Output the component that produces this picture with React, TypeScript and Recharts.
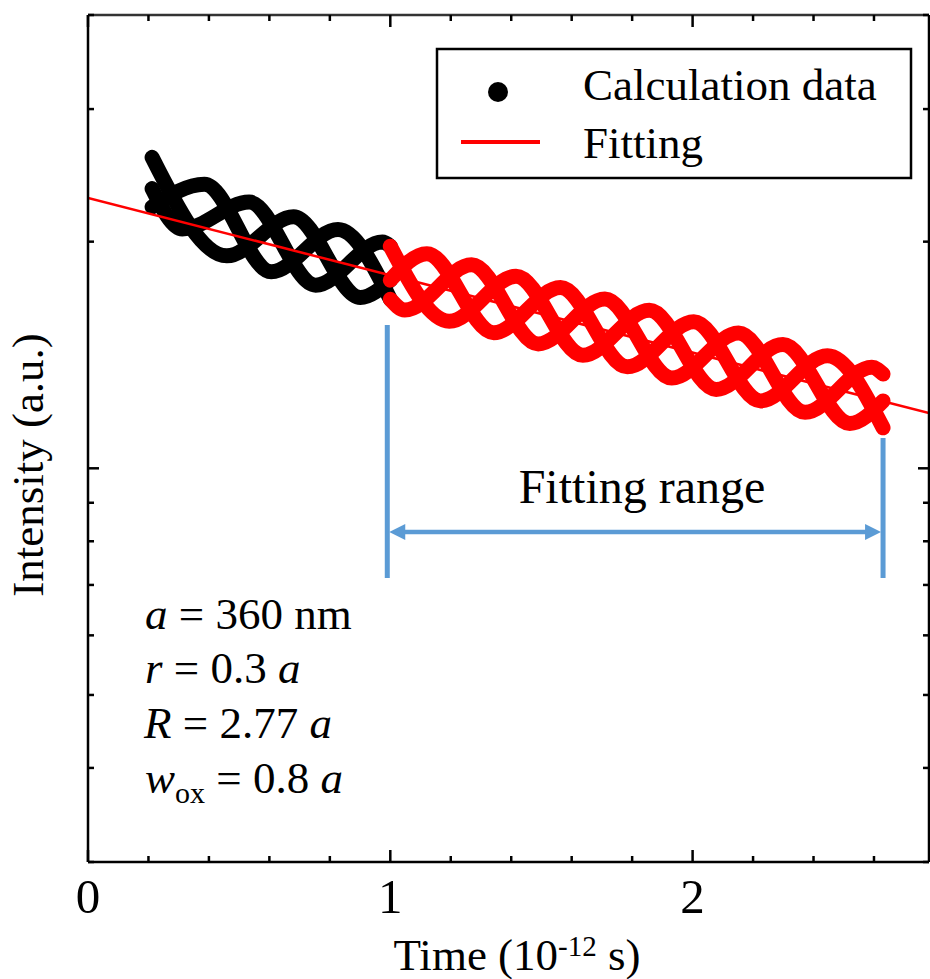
import React from 'react';
import { LineChart, Line, XAxis, YAxis, ReferenceLine } from 'recharts';

const FONT = "'Liberation Serif', 'Times New Roman', serif";
const BLUE = '#5B9BD5';
const RED = '#FF0000';

// Axis ticks
const timeTicks = [0, 0.2, 0.4, 0.6, 0.8, 1, 1.2, 1.4, 1.6, 1.8, 2, 2.2, 2.4, 2.6];
const timeLabels = [0, 1, 2];
const intensityTicks = [0.3, 0.4, 0.5, 0.6, 0.7, 0.8, 0.9, 1, 2, 3, 4];
const intensityMajor = [1];
const timeDomain = [0, 2.782];
const intensityDomain = [0.3, 4];

// Calculation data, three interleaved strands (time in ps, intensity a.u.)
const strandABlack = [
  { t: 0.212, v: 2.588 }, { t: 0.459, v: 1.915 }, { t: 0.68, v: 2.159 },
  { t: 0.901, v: 1.686 }, { t: 1.0, v: 1.778 },
];
const strandARed = [
  { t: 1.0, v: 1.778 }, { t: 1.121, v: 1.928 }, { t: 1.342, v: 1.514 },
  { t: 1.563, v: 1.738 }, { t: 1.784, v: 1.364 }, { t: 2.004, v: 1.566 },
  { t: 2.225, v: 1.229 }, { t: 2.446, v: 1.411 }, { t: 2.63, v: 1.132 },
];
const strandBBlack = [
  { t: 0.212, v: 2.224 }, { t: 0.385, v: 2.384 }, { t: 0.606, v: 1.824 },
  { t: 0.827, v: 2.076 }, { t: 1.0, v: 1.677 },
];
const strandBRed = [
  { t: 1.0, v: 1.677 }, { t: 1.048, v: 1.623 }, { t: 1.269, v: 1.863 },
  { t: 1.489, v: 1.463 }, { t: 1.71, v: 1.678 }, { t: 1.931, v: 1.318 },
  { t: 2.152, v: 1.512 }, { t: 2.372, v: 1.187 }, { t: 2.593, v: 1.362 },
  { t: 2.63, v: 1.334 },
];
const strandCBlack = [
  { t: 0.212, v: 2.352 }, { t: 0.312, v: 2.079 }, { t: 0.533, v: 2.257 },
  { t: 0.753, v: 1.751 }, { t: 0.974, v: 1.998 }, { t: 1.0, v: 1.972 },
];
const strandCRed = [
  { t: 1.0, v: 1.972 }, { t: 1.195, v: 1.568 }, { t: 1.416, v: 1.799 },
  { t: 1.637, v: 1.413 }, { t: 1.857, v: 1.621 }, { t: 2.078, v: 1.273 },
  { t: 2.299, v: 1.46 }, { t: 2.52, v: 1.147 }, { t: 2.63, v: 1.229 },
];

// Exponential fit (straight on log axis)
const fitData = [{ t: 0, v: 2.286 }, { t: 2.782, v: 1.184 }];

// Fitting-range annotation
const rangeStart = 0.99;
const rangeEnd = 2.63;
const rangeLeftTop = 1.55;
const rangeRightTop = 1.097;
const rangeBottom = 0.715;
const arrowLevel = 0.823;

const isMajorTime = (v: number) => timeLabels.some((m) => Math.abs(m - v) < 1e-6);
const isMajorInt = (v: number) => intensityMajor.some((m) => Math.abs(m - v) < 1e-6);

const BottomTick = (p: any) => {
  const major = isMajorTime(p.payload.value);
  return (
    <g>
      <line x1={p.x} x2={p.x} y1={p.y} y2={p.y - (major ? 12 : 6)} stroke="#000" strokeWidth={2.5} />
      {major && (
        <text x={p.x} y={p.y + 51} textAnchor="middle" fontSize={49} fontFamily={FONT} fill="#000">
          {p.payload.value}
        </text>
      )}
    </g>
  );
};
const TopTick = (p: any) => {
  const major = isMajorTime(p.payload.value);
  return <line x1={p.x} x2={p.x} y1={p.y} y2={p.y + (major ? 12 : 6)} stroke="#000" strokeWidth={2.5} />;
};
const LeftTick = (p: any) => {
  const major = isMajorInt(p.payload.value);
  return <line x1={p.x} x2={p.x + (major ? 11 : 6)} y1={p.y} y2={p.y} stroke="#000" strokeWidth={2.5} />;
};
const RightTick = (p: any) => {
  const major = isMajorInt(p.payload.value);
  return <line x1={p.x} x2={p.x - (major ? 11 : 6)} y1={p.y} y2={p.y} stroke="#000" strokeWidth={2.5} />;
};

const ArrowShape = (p: any) => {
  const { x1, y1, x2, y2 } = p;
  return (
    <g>
      <line x1={x1 + 10} y1={y1} x2={x2 - 10} y2={y2} stroke={BLUE} strokeWidth={4.5} />
      <polygon points={`${x1 + 2},${y1} ${x1 + 18},${y1 - 8} ${x1 + 18},${y1 + 8}`} fill={BLUE} />
      <polygon points={`${x2 - 2},${y2} ${x2 - 18},${y2 - 8} ${x2 - 18},${y2 + 8}`} fill={BLUE} />
    </g>
  );
};

const strandStyle = {
  type: 'monotone' as const,
  dataKey: 'v',
  dot: false,
  strokeWidth: 15,
  strokeLinecap: 'round' as const,
  strokeLinejoin: 'round' as const,
  isAnimationActive: false,
  activeDot: false,
};

const axisCommon = {
  type: 'number' as const,
  allowDataOverflow: true,
  interval: 0 as const,
  tickSize: 0,
  tickMargin: 0,
  tickLine: false,
  axisLine: { stroke: '#000', strokeWidth: 2.5 },
};

export default function App() {
  return (
    <div style={{ position: 'absolute', left: 0, top: 0, width: 930, height: 979, background: '#fff' }}>
      <LineChart width={930} height={979} margin={{ top: 14, right: 0, bottom: 116, left: 87 }}>
        <XAxis
          {...axisCommon}
          dataKey="t"
          domain={timeDomain}
          ticks={timeTicks}
          height={1}
          tick={(p: any) => <BottomTick {...p} />}
        />
        <XAxis
          {...axisCommon}
          xAxisId="top"
          orientation="top"
          dataKey="t"
          domain={timeDomain}
          ticks={timeTicks}
          height={1}
          axisLine={{ stroke: '#333', strokeWidth: 2.5 }}
          tick={(p: any) => <TopTick {...p} />}
        />
        <YAxis
          {...axisCommon}
          scale="log"
          domain={intensityDomain}
          ticks={intensityTicks}
          width={1}
          tick={(p: any) => <LeftTick {...p} />}
        />
        <YAxis
          {...axisCommon}
          yAxisId="right"
          orientation="right"
          scale="log"
          domain={intensityDomain}
          ticks={intensityTicks}
          width={1}
          tick={(p: any) => <RightTick {...p} />}
        />

        <ReferenceLine
          segment={[{ x: rangeStart, y: rangeLeftTop }, { x: rangeStart, y: rangeBottom }]}
          stroke={BLUE}
          strokeWidth={5}
          ifOverflow="visible"
        />
        <ReferenceLine
          segment={[{ x: rangeEnd, y: rangeRightTop }, { x: rangeEnd, y: rangeBottom }]}
          stroke={BLUE}
          strokeWidth={5}
          ifOverflow="visible"
        />
        <ReferenceLine
          segment={[{ x: rangeStart, y: arrowLevel }, { x: rangeEnd, y: arrowLevel }]}
          stroke={BLUE}
          strokeWidth={4.5}
          ifOverflow="visible"
          shape={(p: any) => <ArrowShape {...p} />}
        />

        <Line {...strandStyle} data={strandABlack} stroke="#000" />
        <Line {...strandStyle} data={strandBBlack} stroke="#000" />
        <Line {...strandStyle} data={strandCBlack} stroke="#000" />
        <Line {...strandStyle} data={strandARed} stroke={RED} />
        <Line {...strandStyle} data={strandBRed} stroke={RED} />
        <Line {...strandStyle} data={strandCRed} stroke={RED} />
        <Line
          type="linear"
          dataKey="v"
          data={fitData}
          stroke={RED}
          strokeWidth={2.5}
          dot={false}
          activeDot={false}
          isAnimationActive={false}
        />

        {/* Legend */}
        <g>
          <rect x={437} y={49} width={474} height={129} fill="#fff" stroke="#000" strokeWidth={2.5} />
          <circle cx={498} cy={92} r={10} fill="#000" />
          <line x1={461} x2={540} y1={142} y2={142} stroke={RED} strokeWidth={4} />
          <text x={583} y={100} fontSize={45} fontFamily={FONT} fill="#000">Calculation data</text>
          <text x={583} y={158} fontSize={45} fontFamily={FONT} fill="#000">Fitting</text>
        </g>

        {/* Annotations */}
        <text x={642} y={503} textAnchor="middle" fontSize={48} fontFamily={FONT} fill="#000">Fitting range</text>
        <g fontSize={45} fontFamily={FONT} fill="#000">
          <text x={145} y={629}>
            <tspan fontStyle="italic">a</tspan> = 360 nm
          </text>
          <text x={145} y={683}>
            <tspan fontStyle="italic">r</tspan> = 0.3 <tspan fontStyle="italic">a</tspan>
          </text>
          <text x={144} y={738}>
            <tspan fontStyle="italic">R</tspan> = 2.77 <tspan fontStyle="italic">a</tspan>
          </text>
          <text x={145} y={793}>
            <tspan fontStyle="italic">w</tspan>
            <tspan fontSize={30} dy={10}>ox</tspan>
            <tspan dy={-10}> = 0.8 </tspan>
            <tspan fontStyle="italic">a</tspan>
          </text>
        </g>

        {/* Axis titles */}
        <text x={517} y={970} textAnchor="middle" fontSize={45} fontFamily={FONT} fill="#000">
          Time (10<tspan fontSize={29} dy={-14}>-12</tspan><tspan dy={14}> s)</tspan>
        </text>
        <text
          x={43}
          y={465}
          textAnchor="middle"
          fontSize={45}
          fontFamily={FONT}
          fill="#000"
          transform="rotate(-90, 43, 465)"
        >
          Intensity (a.u.)
        </text>
      </LineChart>
    </div>
  );
}
